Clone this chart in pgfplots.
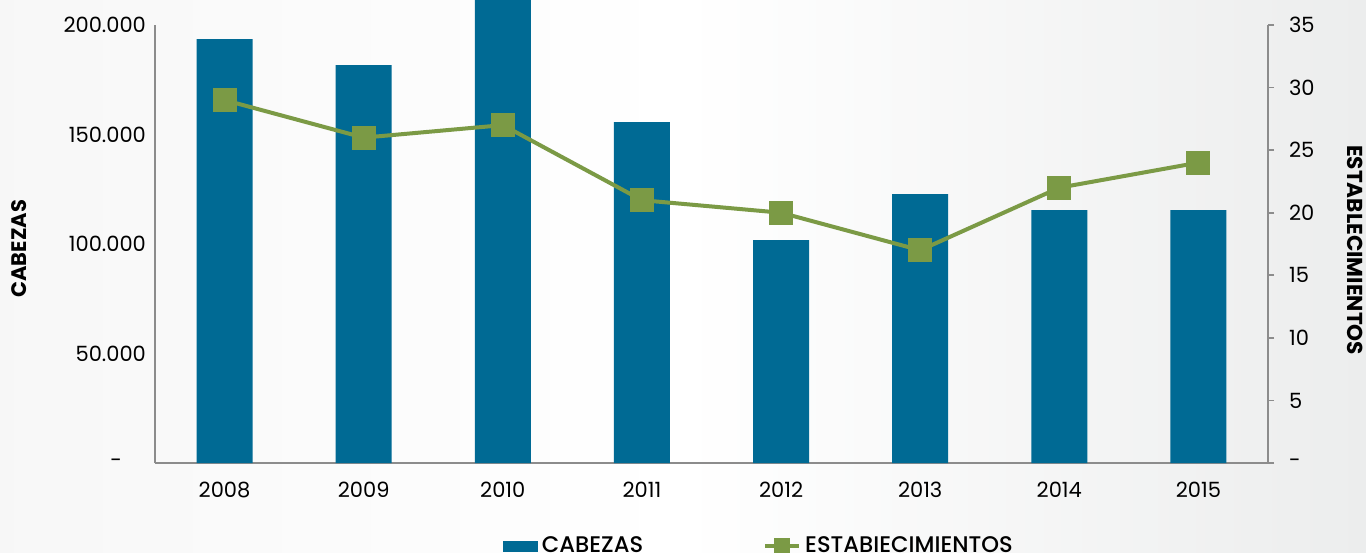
\documentclass[border=0pt]{standalone}
\usepackage{pgfplots}
\pgfplotsset{compat=1.18}
\usepackage{fontspec}
\setmainfont{Poppins}
\newfontfamily\medf{Poppins Medium}
\definecolor{barblue}{HTML}{006A94}
\definecolor{lgreen}{HTML}{7B9A45}
\definecolor{axgray}{HTML}{8C8C8C}
\definecolor{bgR}{HTML}{ECEDED}
\begin{document}
\begin{tikzpicture}
\path[use as bounding box] (0,0) rectangle (683pt,276pt);
\clip (0,0) rectangle (683pt,276pt);
\shade[left color=white!97!black, right color=bgR, middle color=white] (0,0) rectangle (683pt,276pt);
\begin{axis}[
  at={(77.5pt,44.5pt)}, anchor=south west,
  scale only axis, width=556.5pt, height=219pt,
  xmin=-0.5, xmax=7.5, ymin=0, ymax=200000,
  axis y line*=left, axis x line*=bottom,
  axis line style={axgray, line width=0.8pt, -},
  xtick={0,...,7}, xticklabels={2008,2009,2010,2011,2012,2013,2014,2015},
  ytick={0,50000,100000,150000,200000},
  yticklabels={-\rule{12pt}{0pt},50.000,100.000,150.000,200.000},
  scaled y ticks=false,
  major tick length=0pt,
  tick label style={font=\fontsize{10.5}{12}\selectfont, text=black},
  xticklabel style={yshift=-6pt},
  yticklabel style={xshift=-1pt},
  ybar, bar width=28pt,
  clip=false,
]
\addplot[fill=barblue, draw=none] coordinates {(0,193600) (1,181700) (2,215000) (3,155700) (4,101800) (5,122800) (6,115500) (7,115500)};
\node[rotate=90, font=\bfseries\fontsize{10.5}{12}\selectfont] at (rel axis cs:-0.122,0.489) {CABEZAS};
\end{axis}
\begin{axis}[
  at={(77.5pt,44.5pt)}, anchor=south west,
  scale only axis, width=556.5pt, height=219pt,
  xmin=-0.5, xmax=7.5, ymin=0, ymax=35,
  axis y line*=right, axis x line=none,
  axis line style={axgray, line width=0.8pt, -},
  ytick={0,5,...,35},
  yticklabels={-,5,10,15,20,25,30,35},
  major tick length=3pt,
  tick style={axgray, line width=0.8pt},
  ytick align=outside,
  tick label style={font=\fontsize{10.5}{12}\selectfont, text=black},
  yticklabel style={xshift=4pt},
  legend style={at={(0.5435,-0.19)}, anchor=center, draw=none, fill=none,
     legend columns=2, font=\medf\fontsize{11.3}{12}\selectfont,
     /tikz/every even column/.append style={column sep=58pt}},
  clip=false,
]
\addlegendimage{legend image code/.code={\fill[barblue] (0pt,-2.6pt) rectangle (17pt,2.6pt);}}
\addlegendentry{CABEZAS}
\addplot[lgreen, line width=2pt, mark=square*, mark size=5pt, mark options={solid},
  legend image code/.code={\draw[lgreen, line width=2pt] (0pt,0pt) -- (17pt,0pt); \fill[lgreen] (5.5pt,-3pt) rectangle (11.5pt,3pt);}]
  coordinates {(0,29) (1,26) (2,27) (3,21) (4,20) (5,17) (6,22) (7,24)};
\addlegendentry{ESTABIECIMIENTOS}
\node[rotate=-90, font=\bfseries\fontsize{10.8}{12}\selectfont] at (rel axis cs:1.078,0.486) {ESTABLECIMIENTOS};
\end{axis}
\end{tikzpicture}
\end{document}
